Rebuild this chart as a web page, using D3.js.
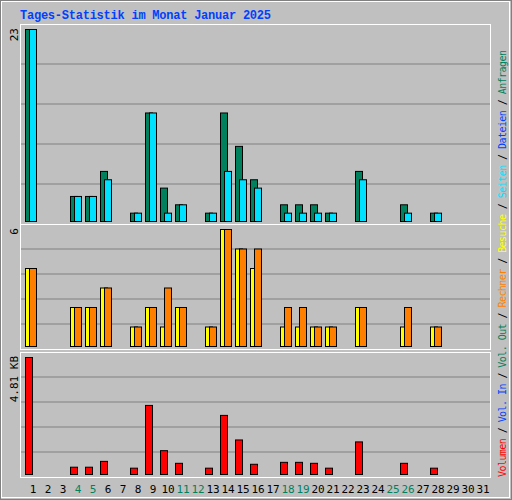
<!DOCTYPE html>
<html><head><meta charset="utf-8">
<script src="https://cdn.jsdelivr.net/npm/d3@7"></script>
<style>body{margin:0;background:#fff}</style>
</head><body>
<script>
var days = d3.range(1, 32);
var weekend = [4, 5, 11, 12, 18, 19, 25, 26];
var hits   = [23,0,0,3,3,6,0,1,13,4,2,0,1,13,9,5,0,2,2,2,1,0,6,0,0,2,0,1,0,0,0];
var files  = [23,0,0,3,3,5,0,1,13,1,2,0,1,6,5,4,0,1,1,1,1,0,5,0,0,1,0,1,0,0,0];
var visits = [4,0,0,2,2,3,0,1,2,1,2,0,1,6,5,4,0,1,1,1,1,0,2,0,0,1,0,1,0,0,0];
var hosts  = [4,0,0,2,2,3,0,1,2,3,2,0,1,6,5,5,0,2,2,1,1,0,2,0,0,2,0,1,0,0,0];
var volume = [4.81,0,0,0.30,0.30,0.54,0,0.26,2.84,0.98,0.46,0,0.26,2.43,1.42,0.42,0,0.50,0.50,0.46,0.26,0,1.34,0,0,0.46,0,0.26,0,0,0];

var svg = d3.select("body").append("svg").attr("width", 512).attr("height", 500);
svg.append("rect").attr("x", 0.5).attr("y", 0.5).attr("width", 511).attr("height", 499)
  .attr("fill", "#c0c0c0").attr("stroke", "#808080");
svg.append("rect").attr("x", 1.5).attr("y", 1.5).attr("width", 508).attr("height", 496)
  .attr("fill", "none").attr("stroke", "#fff");

var mono = "'DejaVu Sans Mono', 'Liberation Mono', monospace";
svg.append("text").attr("x", 20).attr("y", 19).attr("fill", "#0040ff")
  .attr("font-family", "'Liberation Mono', monospace").attr("font-weight", "bold").attr("font-size", 12)
  .attr("textLength", 251).text("Tages-Statistik im Monat Januar 2025");

var x = d3.scaleLinear().domain([1, 2]).range([25, 40]);

function panel(y0, y1, nGrid, max, label, series) {
  var g = svg.append("g");
  g.append("rect").attr("x", 20.5).attr("y", y0 + 0.5).attr("width", 470).attr("height", y1 - y0)
    .attr("fill", "#c0c0c0").attr("stroke", "#fff").attr("stroke-width", 1);
  var step = (y1 - y0) / nGrid;
  for (var i = 1; i < nGrid; i++) {
    g.append("line").attr("x1", 21).attr("x2", 490).attr("y1", y0 + step * i).attr("y2", y0 + step * i)
      .attr("stroke", "#808080").attr("stroke-width", 1);
  }
  var y = d3.scaleLinear().domain([0, max]).range([y1 - 3, y0 + 5]);
  series.forEach(function(s) {
    g.selectAll(null).data(s.values.map(function(v, i) { return {d: i + 1, v: v}; }).filter(function(o) { return o.v > 0; }))
      .enter().append("rect")
      .attr("x", function(o) { return x(o.d) + s.off + 0.5; })
      .attr("y", function(o) { return y(o.v) + 0.5; })
      .attr("width", 7).attr("height", function(o) { return y(0) - y(o.v); })
      .attr("fill", s.color).attr("stroke", "#000").attr("stroke-width", 1);
  });
  g.append("text").attr("transform", "translate(18," + (y0 + 4) + ") rotate(-90)")
    .attr("text-anchor", "end").attr("font-family", mono).attr("font-size", 11).text(label);
}

panel(24, 224, 5, 23, "23", [{values: hits, color: "#00805c", off: 0}, {values: files, color: "#00e0ff", off: 4}]);
panel(224, 349, 5, 6, "6", [{values: visits, color: "#ffff00", off: 0}, {values: hosts, color: "#ff8000", off: 4}]);
panel(352, 477, 5, 4.81, "4.81 KB", [{values: volume, color: "#ff0000", off: 0}]);

svg.append("g").selectAll("text").data(days).enter().append("text")
  .attr("x", function(d) { return x(d) + 8; }).attr("y", 493)
  .attr("text-anchor", "middle").attr("font-family", mono).attr("font-size", 11)
  .attr("fill", function(d) { return weekend.indexOf(d) >= 0 ? "#00805c" : "#000"; })
  .text(String);

var legend = [["Volumen", "#ff0000"], [" / ", "#000"], ["Vol. In", "#0040ff"], [" / ", "#000"],
  ["Vol. Out", "#00805c"], [" / ", "#000"], ["Rechner", "#ff8000"], [" / ", "#000"],
  ["Besuche", "#ffff00"], [" / ", "#000"], ["Seiten", "#00e0ff"], [" / ", "#000"],
  ["Dateien", "#0040ff"], [" / ", "#000"], ["Anfragen", "#00805c"]];
var lt = svg.append("text").attr("transform", "translate(506,477) rotate(-90)")
  .attr("font-family", mono).attr("font-size", 10).attr("textLength", 427).attr("xml:space", "preserve");
lt.selectAll("tspan").data(legend).enter().append("tspan")
  .attr("fill", function(d) { return d[1]; }).text(function(d) { return d[0]; });
</script>
</body></html>
